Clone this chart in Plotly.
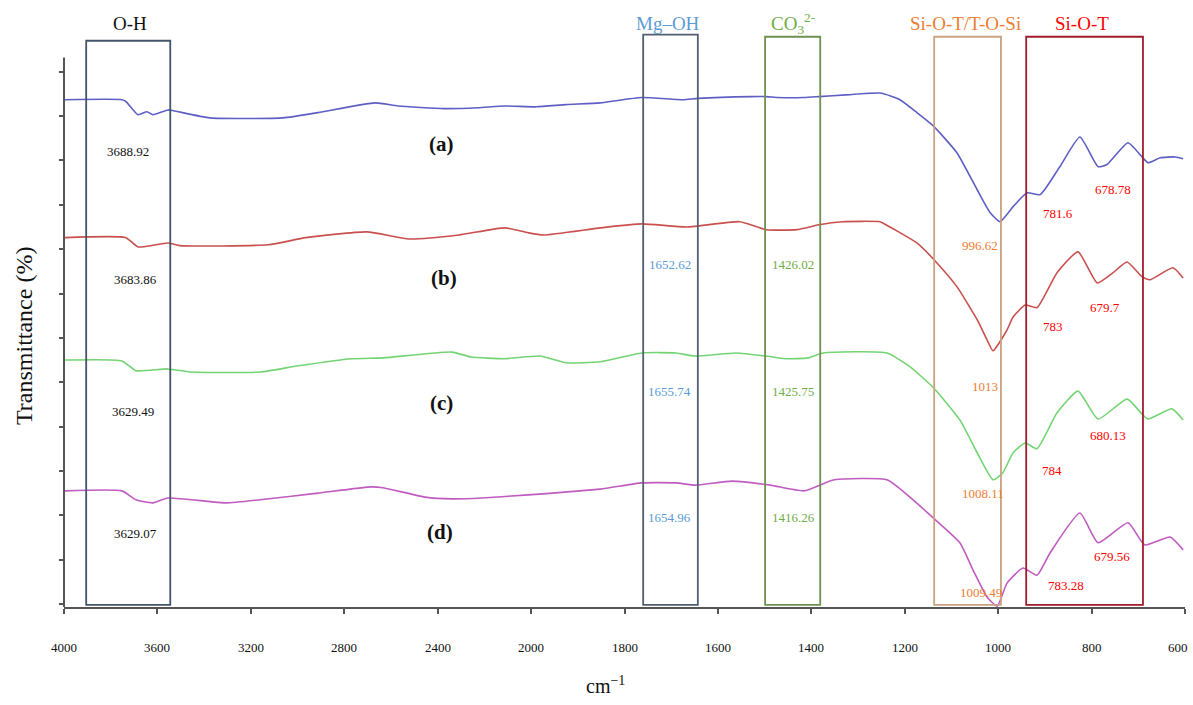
import numpy as np
import plotly.graph_objects as go

# ---------------- data (wavenumber cm-1, transmittance in arbitrary offset units) ----------------
wn_a = [3996, 3752, 3735, 3683, 3645, 3619, 3555, 3530, 3375, 3062, 2912, 2668, 2570, 2373, 2227, 2112,
        1989, 1925, 1852, 1763, 1675, 1643, 1529, 1497, 1471, 1416, 1384, 1326, 1253, 1229, 1210, 1174,
        1139, 1088, 1045, 1017, 996, 968, 938, 910, 868, 825, 786, 767, 722, 692, 679, 653, 621, 604]
t_a = [11.37, 11.37, 11.33, 11.03, 11.10, 11.03, 11.14, 11.12, 10.96, 10.96, 11.08, 11.30, 11.23, 11.17, 11.19, 11.23,
       11.21, 11.26, 11.30, 11.42, 11.37, 11.40, 11.44, 11.44, 11.42, 11.42, 11.44, 11.48, 11.52, 11.45, 11.37, 11.08,
       10.78, 10.17, 9.34, 8.82, 8.62, 8.96, 9.27, 9.23, 9.86, 10.53, 9.86, 9.91, 10.40, 10.08, 9.95, 10.06, 10.08, 10.04]

wn_b = [3996, 3735, 3683, 3555, 3503, 3126, 2964, 2703, 2523, 2309, 2112, 2013, 1974, 1852, 1763, 1666,
        1553, 1497, 1431, 1384, 1334, 1253, 1247, 1174, 1131, 1088, 1045, 1024, 1011, 981, 968, 942, 917,
        874, 829, 788, 754, 724, 692, 675, 626, 604]
t_b = [8.26, 8.26, 8.05, 8.14, 8.08, 8.10, 8.26, 8.39, 8.23, 8.32, 8.48, 8.37, 8.32, 8.48, 8.57, 8.50,
       8.62, 8.44, 8.44, 8.55, 8.62, 8.62, 8.59, 8.14, 7.69, 7.15, 6.41, 5.96, 5.71, 6.18, 6.47, 6.74, 6.68,
       7.47, 7.94, 7.24, 7.47, 7.71, 7.38, 7.31, 7.58, 7.35]

wn_c = [3996, 3752, 3692, 3555, 3456, 3161, 2998, 2767, 2634, 2339, 2257, 2112, 1981, 1925, 1852, 1763,
        1690, 1649, 1561, 1497, 1456, 1407, 1375, 1238, 1189, 1139, 1082, 1045, 1011, 990, 968, 942, 917,
        874, 829, 786, 724, 690, 679, 628, 604]
t_c = [5.50, 5.48, 5.26, 5.30, 5.23, 5.23, 5.37, 5.53, 5.55, 5.68, 5.57, 5.53, 5.59, 5.44, 5.46, 5.66,
       5.66, 5.59, 5.66, 5.59, 5.53, 5.55, 5.66, 5.66, 5.35, 4.88, 4.15, 3.41, 2.80, 2.96, 3.41, 3.63, 3.50,
       4.31, 4.80, 4.17, 4.62, 4.26, 4.17, 4.40, 4.15]

wn_d = [3996, 3752, 3692, 3619, 3555, 3306, 3161, 2912, 2685, 2634, 2454, 2339, 2210, 2013, 1852, 1763,
        1690, 1649, 1570, 1488, 1416, 1351, 1238, 1189, 1139, 1082, 1054, 1024, 1002, 981, 947, 917, 889,
        825, 786, 722, 686, 632, 604]
t_d = [2.55, 2.55, 2.35, 2.28, 2.39, 2.28, 2.35, 2.50, 2.64, 2.62, 2.41, 2.37, 2.39, 2.46, 2.59, 2.73,
       2.73, 2.68, 2.77, 2.68, 2.55, 2.80, 2.80, 2.41, 1.94, 1.38, 0.77, 0.16, -0.05, 0.47, 0.81, 0.65, 1.15,
       2.05, 1.38, 1.83, 1.33, 1.51, 1.22]

series_names = ["(a)", "(b)", "(c)", "(d)"]
series_colors = ["#5d5fc4", "#c9504e", "#74d474", "#c05cc0"]

x_ticks = [4000, 3600, 3200, 2800, 2400, 2000, 1800, 1600, 1400, 1200, 1000, 800, 600]

# band boxes
box_labels = ["O-H", "Mg–OH", "CO<sub>3</sub><sup>2-</sup>", "Si-O-T/T-O-Si", "Si-O-T"]
box_wn_high = [3905, 1760, 1499, 1137, 940]
box_wn_low = [3545, 1643, 1381, 994, 690]
box_top = [12.70, 12.84, 12.79, 12.79, 12.79]
box_line_colors = ["#44546a", "#506070", "#6f9150", "#caa27f", "#a01c2c"]
box_text_colors = ["#111111", "#5b9bd5", "#70ad47", "#ed7d31", "#ff0000"]
box_label_wn = [3718, 1707, 1439, 1071, 820]

# peak annotations
peak_text = ["3688.92", "3683.86", "3629.49", "3629.07",
             "1652.62", "1655.74", "1654.96",
             "1426.02", "1425.75", "1416.26",
             "996.62", "1013", "1008.11", "1009.49",
             "781.6", "783", "784", "783.28",
             "678.78", "679.7", "680.13", "679.56"]
peak_wn = [3726, 3696, 3704, 3696,
           1703, 1703, 1703,
           1439, 1439, 1439,
           1039, 1028, 1032, 1037,
           872, 883, 885, 855,
           754, 771, 765, 756]
peak_y = [10.20, 7.31, 4.33, 1.58,
          7.65, 4.78, 1.94,
          7.65, 4.78, 1.94,
          8.08, 4.90, 2.50, 0.25,
          8.80, 6.25, 3.00, 0.41,
          9.34, 6.68, 3.79, 1.06]
peak_colors = ["#111111"] * 4 + ["#5b9bd5"] * 3 + ["#70ad47"] * 3 + ["#ed7d31"] * 4 + ["#ff0000"] * 8

label_wn = [2382, 2372, 2382, 2390]
label_y = [10.38, 7.35, 4.53, 1.62]


# ---------------- axis scale: 2:1 compression above 2000 cm-1 (instrument scale change) ----------------
def u(wn):
    wn = np.asarray(wn, dtype=float)
    return np.where(wn > 2000, 2000 + (wn - 2000) / 2.0, wn)


SERIF = "Liberation Serif"
fig = go.Figure()

for wn, t, name, col in zip([wn_a, wn_b, wn_c, wn_d], [t_a, t_b, t_c, t_d], series_names, series_colors):
    fig.add_trace(go.Scatter(x=u(wn), y=t, mode="lines", name=name,
                             line=dict(color=col, width=1.6, shape="spline", smoothing=0.5),
                             showlegend=False, hoverinfo="skip"))

shapes = []
annotations = []
for lab, hi, lo, top, lc, tc, lw in zip(box_labels, box_wn_high, box_wn_low, box_top,
                                        box_line_colors, box_text_colors, box_label_wn):
    shapes.append(dict(type="rect", xref="x", yref="y", x0=float(u(hi)), x1=float(u(lo)),
                       y0=-0.02, y1=top, line=dict(color=lc, width=1.8), fillcolor="rgba(0,0,0,0)"))
    annotations.append(dict(text=lab, xref="x", yref="paper", x=float(u(lw)), y=1.0,
                            showarrow=False, xanchor="center", yanchor="middle",
                            font=dict(family=SERIF, size=19, color=tc)))

# y-axis line (only up to top tick region)
shapes.append(dict(type="line", xref="paper", yref="y", x0=0, x1=0, y0=-0.068, y1=12.32,
                   line=dict(color="#555555", width=2)))

for txt, w, yv, c in zip(peak_text, peak_wn, peak_y, peak_colors):
    annotations.append(dict(text=txt, xref="x", yref="y", x=float(u(w)), y=yv, showarrow=False,
                            xanchor="center", yanchor="middle",
                            font=dict(family=SERIF, size=13, color=c)))

for txt, w, yv in zip(series_names, label_wn, label_y):
    annotations.append(dict(text="<b>" + txt + "</b>", xref="x", yref="y", x=float(u(w)), y=yv,
                            showarrow=False, xanchor="center", yanchor="middle",
                            font=dict(family=SERIF, size=21, color="#111111")))

# x tick labels (placed well below the axis, as in the original)
for v in x_ticks:
    last = (v == x_ticks[-1])
    annotations.append(dict(text=str(v), xref="x", yref="paper", x=float(u(v)), y=-0.0685,
                            showarrow=False, xanchor="right" if last else "center", yanchor="middle",
                            xshift=5 if last else 0,
                            font=dict(family=SERIF, size=13, color="#111111")))

annotations.append(dict(text="cm<sup>−1</sup>", xref="paper", yref="paper", x=0.483, y=-0.158,
                        showarrow=False, xanchor="center", yanchor="bottom",
                        font=dict(family=SERIF, size=20, color="#111111")))
annotations.append(dict(text="Transmittance (%)", xref="paper", yref="paper", x=-0.0357, y=0.464,
                        showarrow=False, xanchor="center", yanchor="middle", textangle=-90,
                        font=dict(family=SERIF, size=24, color="#111111")))

fig.update_layout(
    width=1193, height=705,
    margin=dict(l=64, r=8, t=23, b=98),
    paper_bgcolor="white", plot_bgcolor="white",
    shapes=shapes, annotations=annotations,
    xaxis=dict(range=[float(u(4000)), float(u(600))], tickvals=u(x_ticks).tolist(),
               showticklabels=False, showline=True, linecolor="#555555", linewidth=1.5,
               ticks="outside", ticklen=5, tickcolor="#555555", tickwidth=1.5,
               showgrid=False, zeroline=False),
    yaxis=dict(range=[-0.068, 13.1], tickvals=list(range(13)), showticklabels=False,
               ticks="outside", ticklen=4, tickcolor="#555555", tickwidth=1.5,
               showline=False, showgrid=False, zeroline=False),
)

fig.write_html("out.html", config={"displayModeBar": False},
               post_script="document.body.style.margin='0';")
